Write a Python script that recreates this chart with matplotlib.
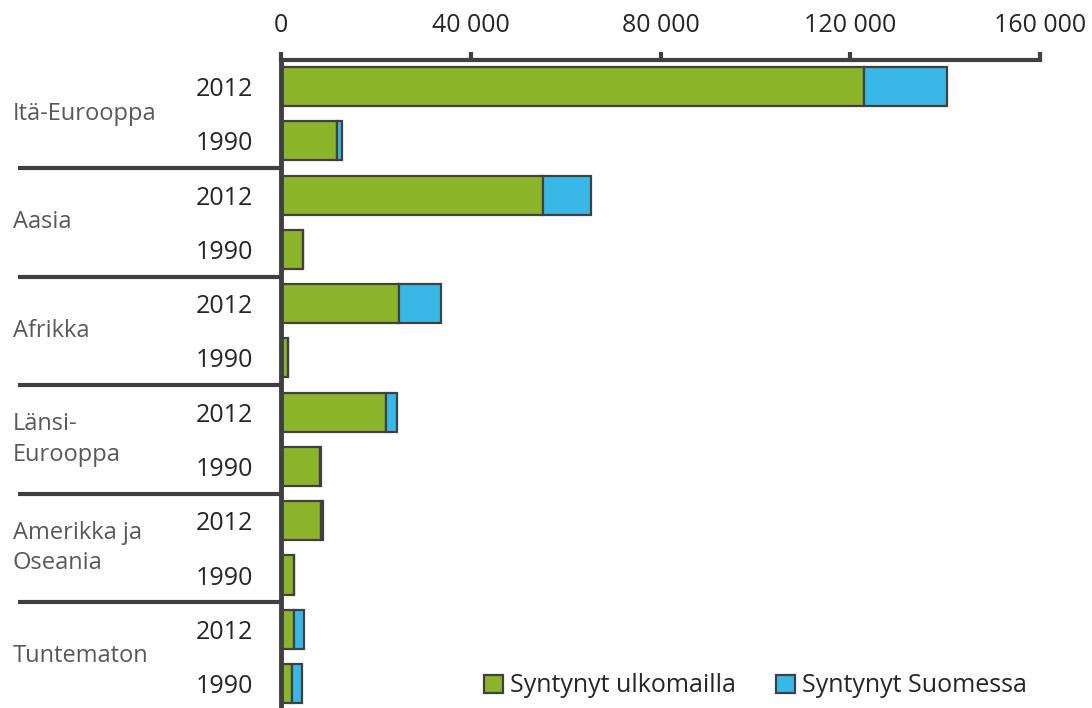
import numpy as np
import matplotlib.pyplot as plt
import matplotlib.transforms as mtransforms
from matplotlib.patches import Patch

plt.rcParams['font.family'] = ['Open Sans', 'DejaVu Sans']

# Alueet ja vuodet
regions = ['Itä-Eurooppa', 'Aasia', 'Afrikka', 'Länsi-\nEurooppa', 'Amerikka ja\nOseania', 'Tuntematon']
years = ['2012', '1990']

# Syntynyt ulkomailla / Syntynyt Suomessa
abroad_2012 = [122900, 55200, 24900, 22100, 8500, 2800]
finland_2012 = [17500, 10100, 8800, 2300, 400, 2100]
abroad_1990 = [11700, 4700, 1400, 8300, 2800, 2400]
finland_1990 = [1100, 0, 0, 200, 0, 2100]

ticks = [0, 40000, 80000, 120000, 160000]
tick_labels = ['0', '40 000', '80 000', '120 000', '160 000']

green = '#8cb42a'
blue = '#38b8e6'
edge = '#404040'

# Palkit järjestykseen: 2012, 1990 jokaiselle alueelle
abroad = []
finland = []
labels = []
for i in range(len(regions)):
    abroad += [abroad_2012[i], abroad_1990[i]]
    finland += [finland_2012[i], finland_1990[i]]
    labels += years
abroad = np.array(abroad)
finland = np.array(finland)
y = np.arange(len(abroad))

fig = plt.figure(figsize=(10.92, 7.08), dpi=100)
ax = fig.add_axes([281 / 1092, 0.0, 759 / 1092, 1 - 60 / 708])

ax.barh(y, abroad, height=0.72, color=green, edgecolor=edge, linewidth=1.6, zorder=2)
ax.barh(y, finland, left=abroad, height=0.72, color=blue, edgecolor=edge, linewidth=1.6, zorder=2)

ax.set_xlim(0, 160000)
ax.set_ylim(11.45, -0.49)

ax.xaxis.tick_top()
ax.set_xticks(ticks)
ax.set_xticklabels(tick_labels, fontsize=18, color='#262626')
ax.tick_params(axis='x', direction='out', length=6, width=3, color=edge, pad=10)

ax.set_yticks(y)
ax.set_yticklabels(labels, fontsize=18, color='#262626')
ax.tick_params(axis='y', length=0, pad=20)

for s in ['bottom', 'right']:
    ax.spines[s].set_visible(False)
ax.spines['top'].set_linewidth(3)
ax.spines['top'].set_color(edge)
ax.spines['left'].set_linewidth(3.5)
ax.spines['left'].set_color(edge)
ax.spines['left'].set_zorder(5)

trans = mtransforms.blended_transform_factory(ax.transAxes, ax.transData)
for k in range(1, len(regions)):
    b = 2 * k - 0.5
    ax.plot([-0.3465, 0], [b, b], transform=trans, color=edge, linewidth=3, clip_on=False, solid_capstyle='butt')

for k, name in enumerate(regions):
    ax.text(-0.3531, 2 * k + 0.5, name, transform=trans, fontsize=17, color='#595959',
            ha='left', va='center', linespacing=1.35)

handles = [Patch(facecolor=green, edgecolor=edge, linewidth=1.6, label='Syntynyt ulkomailla'),
           Patch(facecolor=blue, edgecolor=edge, linewidth=1.6, label='Syntynyt Suomessa')]
fig.legend(handles=handles, loc='center left', bbox_to_anchor=(484 / 1092, 1 - 686 / 708), ncol=2,
           frameon=False, fontsize=18, handlelength=0.75, handleheight=0.75, handletextpad=0.3,
           columnspacing=1.6, borderpad=0, borderaxespad=0, labelcolor='#262626')

fig.savefig('out.png', dpi=100)
